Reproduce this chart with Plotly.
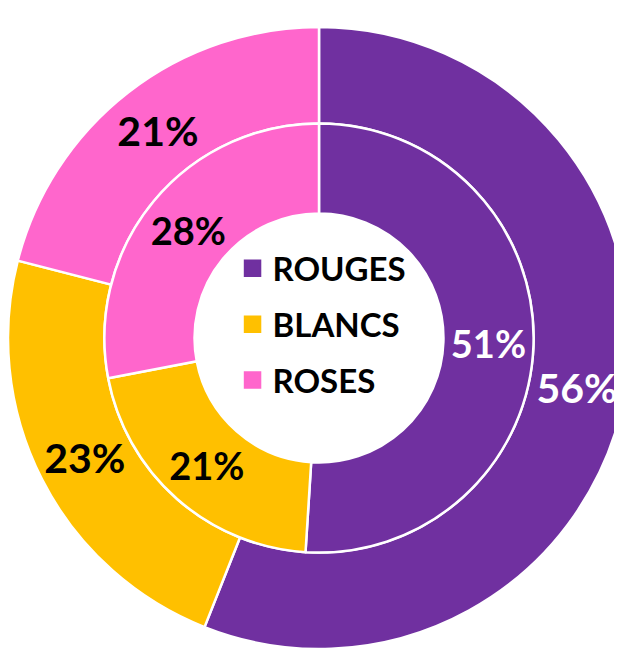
import plotly.graph_objects as go

categories = ["ROUGES", "BLANCS", "ROSES"]
outer_values = [56, 23, 21]
inner_values = [51, 21, 28]

colors = ["#7030A0", "#FFC000", "#FF66CC"]
text_colors = ["white", "black", "black"]

W, H = 622, 672
MB = 12
PW, PH = W, H - MB
R = min(PW, PH) / 2
inner_r = 0.69 * R
dx = inner_r / PW
dy = inner_r / PH

fig = go.Figure()

# anneau extérieur
fig.add_trace(go.Pie(
    labels=categories,
    values=outer_values,
    hole=0.69,
    sort=False,
    direction="clockwise",
    rotation=0,
    marker=dict(colors=colors, line=dict(color="white", width=2.5)),
    texttemplate="%{value}%",
    textposition="inside",
    insidetextorientation="horizontal",
    textfont=dict(family="Lato", size=41, color=text_colors, weight="bold"),
    domain=dict(x=[0, 1], y=[0, 1]),
    showlegend=False,
    hoverinfo="label+value",
))

# anneau intérieur
fig.add_trace(go.Pie(
    labels=categories,
    values=inner_values,
    hole=0.58,
    sort=False,
    direction="clockwise",
    rotation=0,
    marker=dict(colors=colors, line=dict(color="white", width=2.5)),
    texttemplate="%{value}%",
    textposition="inside",
    insidetextorientation="horizontal",
    textfont=dict(family="Lato", size=38, color=text_colors, weight="bold"),
    domain=dict(x=[0.5 - dx, 0.5 + dx], y=[0.5 - dy, 0.5 + dy]),
    showlegend=False,
    hoverinfo="label+value",
))

# légende au centre
for name, c in zip(categories, colors):
    fig.add_trace(go.Scatter(
        x=[None], y=[None],
        mode="markers",
        marker=dict(symbol="square", size=16, color=c, line=dict(color=c, width=1.5)),
        name=name,
        legendgroup=name,
    ))

fig.update_layout(
    width=W,
    height=H,
    margin=dict(l=0, r=0, t=0, b=MB),
    paper_bgcolor="white",
    plot_bgcolor="white",
    xaxis=dict(visible=False),
    yaxis=dict(visible=False),
    font=dict(family="Lato", color="black"),
    legend=dict(
        x=0.361, y=0.648,
        xanchor="left", yanchor="top",
        font=dict(family="Lato", size=33, color="black", weight="bold"),
        tracegroupgap=10,
        bgcolor="rgba(0,0,0,0)",
        itemwidth=30,
    ),
)

fig.write_html("out.html")
